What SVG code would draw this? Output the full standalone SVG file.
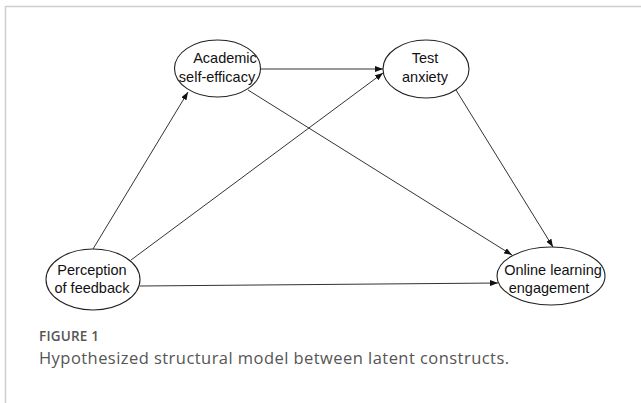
<svg xmlns="http://www.w3.org/2000/svg" width="641" height="403" viewBox="0 0 641 403">
<style>
.node ellipse{fill:#fff;stroke:#222;stroke-width:1.1}
.node text{font-family:"Liberation Sans",Arial,sans-serif;font-size:14.5px;fill:#111;text-anchor:middle}
.edges line{stroke:#333;stroke-width:1;marker-end:url(#arr)}
.cap{font-family:"Open Sans",sans-serif;fill:#555}
</style>
<defs>
<marker id="arr" markerUnits="userSpaceOnUse" markerWidth="8" markerHeight="6" refX="8" refY="3" orient="auto">
<path d="M0,0 L8,3 L0,6 z" fill="#111"/>
</marker>
</defs>
<rect width="641" height="403" fill="#fff"/>
<path d="M5.5,403 V6.5 H641" fill="none" stroke="#cfcfcf" stroke-width="1.5"/>
<g class="edges">
<line x1="93" y1="249" x2="188" y2="92"/>
<line x1="131" y1="260" x2="383" y2="73"/>
<line x1="261" y1="69" x2="383" y2="69"/>
<line x1="248" y1="90" x2="512" y2="255"/>
<line x1="456" y1="90" x2="553" y2="247"/>
<line x1="140" y1="286" x2="498" y2="283"/>
</g>
<g id="academic" class="node">
<ellipse cx="217.5" cy="68.5" rx="43" ry="28.5"/>
<text x="225" y="63">Academic</text>
<text x="217" y="82">self-efficacy</text>
</g>
<g id="test" class="node">
<ellipse cx="426" cy="69" rx="43" ry="29"/>
<text x="425" y="63">Test</text>
<text x="425" y="82">anxiety</text>
</g>
<g id="perception" class="node">
<ellipse cx="93" cy="279.5" rx="47" ry="30.5"/>
<text x="92" y="275">Perception</text>
<text x="92" y="293">of feedback</text>
</g>
<g id="online" class="node">
<ellipse cx="551" cy="276" rx="54" ry="29"/>
<text x="553" y="275">Online learning</text>
<text x="549" y="293">engagement</text>
</g>
<text class="cap" x="39" y="341" font-size="13.5" font-weight="600" letter-spacing="0.2" fill="#666">FIGURE 1</text>
<text class="cap" x="39" y="364" font-size="16.5" letter-spacing="0.45">Hypothesized structural model between latent constructs.</text>
</svg>
